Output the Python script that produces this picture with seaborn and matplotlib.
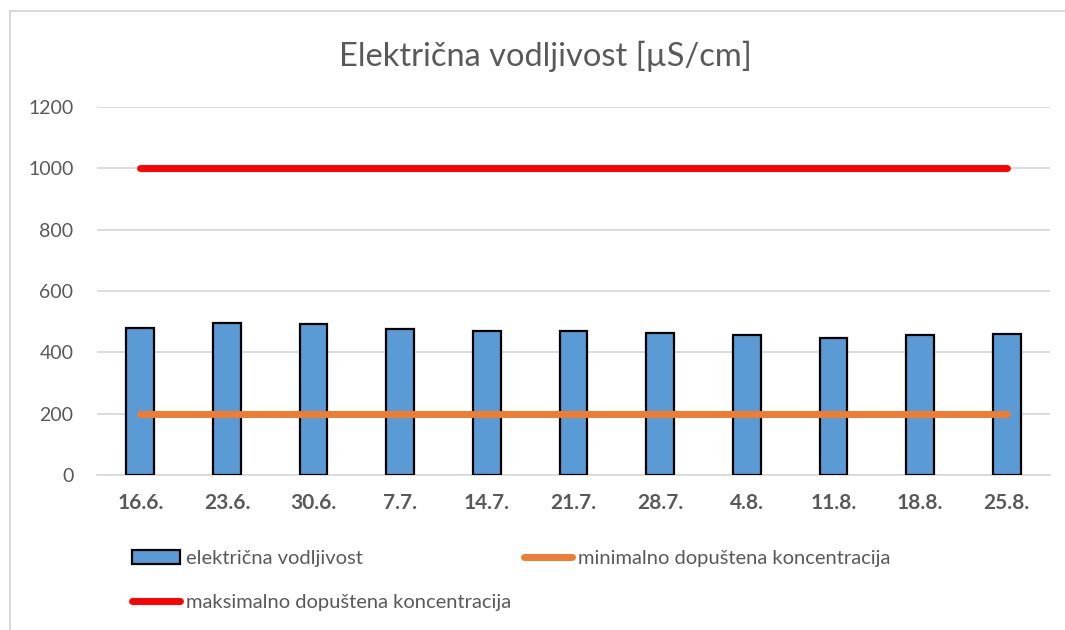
import numpy as np
import pandas as pd
import matplotlib.pyplot as plt
import seaborn as sns
from matplotlib.patches import Patch
from matplotlib.lines import Line2D

# data
dates = ["16.6.", "23.6.", "30.6.", "7.7.", "14.7.", "21.7.", "28.7.", "4.8.", "11.8.", "18.8.", "25.8."]
vodljivost = [478, 495, 491, 475, 471, 471, 463, 455, 446, 455, 460]
min_konc = [200] * len(dates)
max_konc = [1000] * len(dates)
y_ticks = [0, 200, 400, 600, 800, 1000, 1200]

BLUE = "#5B9BD5"
ORANGE = "#ED7D31"
RED = "#FF0000"
GREY = "#595959"
BORDER = "#D9D9D9"

sns.set_theme(style="white")
plt.rcParams["font.family"] = ["Lato", "DejaVu Sans"]

df = pd.DataFrame({"datum": dates, "vodljivost": vodljivost})

fig = plt.figure(figsize=(10.65, 6.3), dpi=100)
ax = fig.add_axes([97 / 1065, 1 - 475 / 630, (1050 - 97) / 1065, (475 - 107) / 630])

sns.barplot(data=df, x="datum", y="vodljivost", color=BLUE, edgecolor="black",
            linewidth=1.6, width=0.32, saturation=1, ax=ax, zorder=3)

pos = np.arange(len(dates))
ax.plot(pos, min_konc, color=ORANGE, lw=5, solid_capstyle="round", zorder=4)
ax.plot(pos, max_konc, color=RED, lw=5, solid_capstyle="round", zorder=4)

ax.set_ylim(0, 1200)
ax.set_xlim(-0.5, len(dates) - 0.5)
ax.set_yticks(y_ticks)
ax.yaxis.grid(True, color=BORDER, lw=1.3, zorder=0)
ax.set_axisbelow(True)
for s in ax.spines.values():
    s.set_visible(False)
ax.spines["bottom"].set_visible(True)
ax.spines["bottom"].set_color(BORDER)
ax.tick_params(axis="both", length=0)
ax.tick_params(axis="y", labelsize=14, labelcolor=GREY, pad=17)
ax.tick_params(axis="x", labelsize=15, labelcolor=GREY, pad=13)
for lbl in ax.get_xticklabels():
    lbl.set_fontweight("bold")
ax.set_xlabel("")
ax.set_ylabel("")

fig.text(545 / 1065, 1 - 56 / 630, "Električna vodljivost [µS/cm]", ha="center", va="center",
         fontsize=23.5, color=GREY)

# two legends so the columns sit where Excel put them
leg_kw = dict(loc="upper left", frameon=False, fontsize=14.5, labelcolor=GREY,
              handlelength=2.4, handletextpad=0.3, labelspacing=1.35, borderpad=0)
fig.legend([Patch(facecolor=BLUE, edgecolor="black", linewidth=1.6),
            Line2D([], [], color=RED, lw=5, solid_capstyle="round")],
           ["električna vodljivost", "maksimalno dopuštena koncentracija"],
           bbox_to_anchor=(122 / 1065, 1 - 540 / 630), **leg_kw)
fig.legend([Line2D([], [], color=ORANGE, lw=5, solid_capstyle="round")],
           ["minimalno dopuštena koncentracija"],
           bbox_to_anchor=(514 / 1065, 1 - 540 / 630), **leg_kw)

# chart-area frame (only the left and top edges fall inside the image)
fig.add_artist(Line2D([10 / 1065, 10 / 1065], [0, 1 - 11 / 630], color=BORDER, lw=1.5,
                      transform=fig.transFigure))
fig.add_artist(Line2D([10 / 1065, 1], [1 - 11 / 630, 1 - 11 / 630], color=BORDER, lw=1.5,
                      transform=fig.transFigure))

fig.savefig("out.png", dpi=100)
